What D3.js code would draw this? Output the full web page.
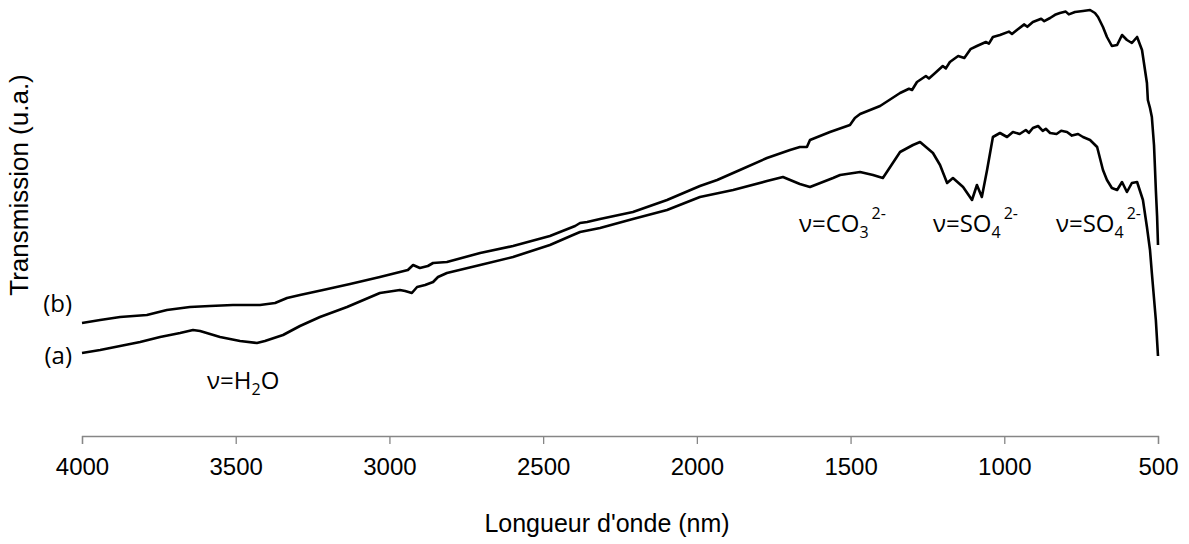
<!DOCTYPE html>
<html>
<head>
<meta charset="utf-8">
<script src="https://cdn.jsdelivr.net/npm/d3@7"></script>
<style>
  html, body { margin: 0; padding: 0; background: #fff; }
  svg { display: block; }
</style>
</head>
<body>
<svg id="chart" width="1189" height="544"></svg>
<script>
// ---- Data (wavenumber, transmission in arbitrary units) ----
const wavenumberTicks = [4000, 3500, 3000, 2500, 2000, 1500, 1000, 500];

const spectrumB_wn = [4000,3941,3876,3789,3724,3649,3584,3509,3421,3372,3333,3291,3216,3128,3031,2966,2940,2923,2901,2875,2858,2813,2705,2598,2478,2396,2380,2357,2315,2208,2097,1990,1934,1860,1772,1697,1665,1642,1632,1567,1502,1486,1469,1404,1339,1310,1300,1284,1255,1245,1225,1200,1190,1177,1150,1130,1110,1089,1060,1050,1037,1014,985,975,959,935,925,907,880,870,851,835,819,800,790,770,744,721,705,695,679,666,650,633,617,601,585,568,552,536,533,526,520,513,510,507,503,500];
const spectrumB_T  = [27.75,28.5,29.25,29.75,31,31.75,32,32.25,32.25,32.75,34,34.75,36,37.5,39.25,40.5,41,42.25,41.5,42,42.75,43,45.25,47,49.5,52,52.75,53,53.75,55.5,58.5,62,63.5,66,69,71,71.75,71.75,73.5,75.5,77.25,79,80,82,85.25,86.3,86,88,89.5,88.9,90.25,92,91.4,93,94.5,94,96.2,97,98,97.6,99.25,99.75,100.6,100,101,102.4,101.8,103,103.8,103.2,104,104.8,105.25,105.6,104.9,105.5,105.75,106,105.25,104.25,101.75,99.25,97,97.25,99.75,98.5,97.75,99.25,96,87.75,83.5,81.5,79.25,72.25,66.75,61,54.5,47.25];

const spectrumA_wn = [4000,3941,3876,3811,3746,3681,3639,3616,3551,3486,3431,3405,3346,3291,3226,3138,3031,2966,2949,2927,2910,2884,2858,2842,2813,2705,2598,2478,2403,2380,2315,2208,2097,1990,1882,1772,1720,1665,1632,1557,1534,1469,1427,1395,1382,1339,1297,1274,1251,1232,1209,1186,1167,1134,1105,1089,1073,1056,1037,1014,991,972,950,930,920,907,890,875,865,851,830,815,796,780,760,744,721,698,679,666,650,633,617,601,585,568,549,536,526,520,507,500];
const spectrumA_T  = [20.25,21,22,23,24.25,25.25,26,25.75,24.25,23.25,22.75,23.25,24.75,27,29.25,31.75,35.25,36,35.75,35.25,36.75,37.25,38,39.25,40.25,42.25,44.25,47.25,49.75,50.5,51.5,53.75,56,59.25,61,63.25,64.25,62.5,61.75,64,64.75,65.5,64.75,64,65.5,70.5,72.25,73,71.5,70.25,67.25,62.75,64,61.75,58.5,62.25,59.25,66,74.25,75.25,74.25,75.5,75,76,75.3,76.5,77,75.8,76.3,75.25,75,75.8,75.5,74.6,75,74.25,73.5,71.75,66,63.5,61.5,61,63,60.5,62.75,63,58.5,51.75,46,40.25,28.5,19.5];

const seriesLabels = ["(b)", "(a)"];
const seriesLabelValues = [32.5, 19.5];

// annotation: main text, subscript, tail, superscript, wavenumber at left edge, value at baseline
const annotMain = ["ν=H", "ν=CO", "ν=SO", "ν=SO"];
const annotSub  = ["2", "3", "4", "4"];
const annotTail = ["O", "", "", ""];
const annotSup  = ["", "2-", "2-", "2-"];
const annotWn   = [3593, 1668, 1232, 832];
const annotT    = [11.25, 50.5, 50.5, 50.5];

const xTitle = "Longueur d'onde (nm)";
const yTitle = "Transmission (u.a.)";

// ---- Drawing ----
const svg = d3.select("#chart");
const x = d3.scaleLinear().domain([4000, 500]).range([82, 1158]);
const y = d3.scaleLinear().domain([0, 108.5]).range([434, 0]);

const line = d3.line().x(d => x(d[0])).y(d => y(d[1]));

const dataB = spectrumB_wn.map((w, i) => [w, spectrumB_T[i]]);
const dataA = spectrumA_wn.map((w, i) => [w, spectrumA_T[i]]);

[dataB, dataA].forEach(data => {
  svg.append("path").datum(data).attr("d", line)
    .attr("fill", "none").attr("stroke", "#000").attr("stroke-width", 2.6)
    .attr("stroke-linejoin", "round");
});

// x axis
const xAxis = d3.axisBottom(x).tickValues(wavenumberTicks).tickSize(8).tickPadding(14)
  .tickFormat(d3.format("d"));
const gx = svg.append("g").attr("transform", "translate(0,436)").call(xAxis);
gx.select(".domain").attr("stroke", "#868686").attr("stroke-width", 1.3);
gx.selectAll(".tick line").attr("stroke", "#868686").attr("stroke-width", 1.3);
gx.selectAll(".tick text").attr("fill", "#000")
  .style("font-family", "'Liberation Sans', Arial, sans-serif").style("font-size", "24px");

svg.append("text").attr("x", 607).attr("y", 532).attr("text-anchor", "middle")
  .style("font-family", "'Liberation Sans', Arial, sans-serif").style("font-size", "25px")
  .text(xTitle);

svg.append("text").attr("transform", "translate(28,185) rotate(-90)").attr("text-anchor", "middle")
  .style("font-family", "'Liberation Sans', Arial, sans-serif").style("font-size", "26px")
  .text(yTitle);

// series labels
seriesLabels.forEach((lab, i) => {
  svg.append("text").attr("x", 72).attr("y", y(seriesLabelValues[i]))
    .attr("text-anchor", "end").attr("dy", "0.35em")
    .style("font-family", "'Open Sans', 'Noto Sans', sans-serif").style("font-size", "24px")
    .text(lab);
});

// annotations
annotMain.forEach((m, i) => {
  const t = svg.append("text").attr("x", x(annotWn[i])).attr("y", y(annotT[i]))
    .style("font-family", "'Open Sans', 'Noto Sans', sans-serif").style("font-size", "24px");
  t.append("tspan").text(m);
  t.append("tspan").attr("dy", 6).style("font-size", "16px").text(annotSub[i]);
  if (annotTail[i]) t.append("tspan").attr("dy", -6).text(annotTail[i]);
  if (annotSup[i]) t.append("tspan").attr("dy", -19).attr("dx", 3).style("font-size", "16px").text(annotSup[i]);
});
</script>
</body>
</html>
